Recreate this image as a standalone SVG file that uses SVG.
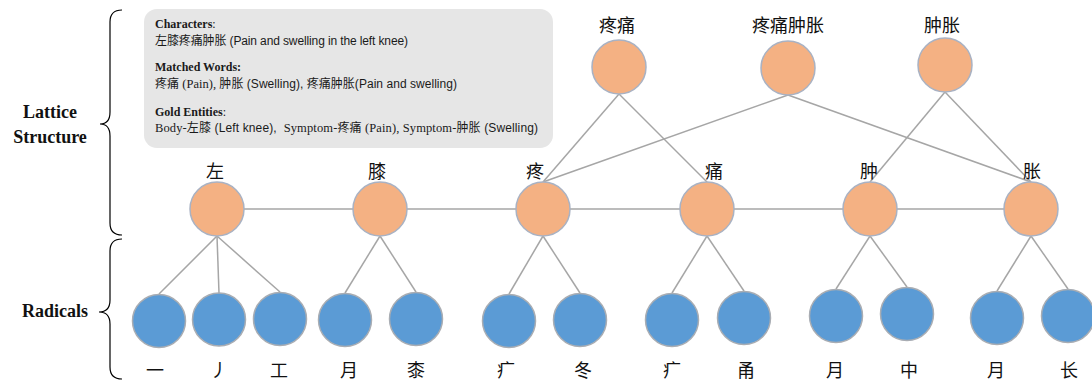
<svg xmlns="http://www.w3.org/2000/svg" width="1092" height="383" viewBox="0 0 1092 383">
<style>
.ch{fill:#F4B183;stroke:#A9B2C3;stroke-width:1.5}
.rd{fill:#5B9BD5;stroke:#A9ADB3;stroke-width:1.5}
.ln{stroke:#A6A6A6;stroke-width:1.5;fill:none}
.br{stroke:#000;stroke-width:1.2;fill:none}
.lab{font-family:"Noto Sans CJK SC","Noto Sans CJK JP",sans-serif;font-size:18px;fill:#111;text-anchor:middle}
.side{font-family:"Liberation Serif",serif;font-weight:bold;font-size:18px;fill:#111;text-anchor:middle}
.hd{font-family:"Liberation Serif",serif;font-size:12px;fill:#1a1a1a}
.tx{font-family:"Liberation Sans","Noto Sans CJK SC",sans-serif;font-size:12px;fill:#1a1a1a}
.cj{font-family:"Noto Sans CJK SC",sans-serif;font-size:12px}
.sf{font-family:"Liberation Serif",serif;font-size:12.5px}
</style>

<g id="braces">
<path class="br" d="M122,10 Q110,10 110,22 L110,112 Q110,124 100,124 Q110,124 110,136 L110,223 Q110,235 122,235"/>
<path class="br" d="M122,239 Q110,239 110,251 L110,300 Q110,312 99,312 Q110,312 110,324 L110,367 Q110,379 122,379"/>
</g>
<text class="side" x="50" y="118">Lattice</text>
<text class="side" x="50" y="143">Structure</text>
<text class="side" x="55" y="317">Radicals</text>

<g id="infobox">
<rect x="144" y="9" width="409" height="139" rx="13" ry="13" fill="#E6E6E6"/>
<text class="hd" x="155" y="28"><tspan font-weight="bold">Characters</tspan>:</text>
<text class="tx" x="155" y="45" textLength="253" lengthAdjust="spacing"><tspan class="cj">左膝疼痛肿胀</tspan> (Pain and swelling in the left knee)</text>
<text class="hd" x="155" y="71" font-weight="bold">Matched Words:</text>
<text class="tx" x="155" y="88" textLength="302" lengthAdjust="spacing" xml:space="preserve"><tspan class="cj">疼痛</tspan><tspan class="sf"> (Pain), </tspan><tspan class="cj">肿胀</tspan> (Swelling), <tspan class="cj">疼痛肿胀</tspan>(Pain and swelling)</text>
<text class="hd" x="155" y="116"><tspan font-weight="bold">Gold Entities</tspan>:</text>
<text class="tx" x="155" y="132" textLength="383" lengthAdjust="spacing" xml:space="preserve"><tspan class="sf">Body-</tspan><tspan class="cj">左膝</tspan> (Left knee),  <tspan class="sf">Symptom-</tspan><tspan class="cj">疼痛</tspan><tspan class="sf"> (Pain), Symptom-</tspan><tspan class="cj">肿胀</tspan> (Swelling)</text>
</g>

<g id="connectors">
<line class="ln" x1="619" y1="94" x2="543" y2="182"/>
<line class="ln" x1="619" y1="94" x2="707" y2="182"/>
<line class="ln" x1="788" y1="95" x2="543" y2="182"/>
<line class="ln" x1="788" y1="95" x2="1031" y2="182"/>
<line class="ln" x1="945" y1="92" x2="870" y2="182"/>
<line class="ln" x1="945" y1="92" x2="1031" y2="182"/>
<line class="ln" x1="244" y1="209" x2="353" y2="209"/>
<line class="ln" x1="407" y1="209" x2="516" y2="209"/>
<line class="ln" x1="570" y1="209" x2="680" y2="209"/>
<line class="ln" x1="734" y1="209" x2="843" y2="209"/>
<line class="ln" x1="897" y1="209" x2="1004" y2="209"/>
<line class="ln" x1="217" y1="236" x2="159" y2="294"/>
<line class="ln" x1="217" y1="236" x2="219" y2="293"/>
<line class="ln" x1="217" y1="236" x2="280" y2="292"/>
<line class="ln" x1="380" y1="236" x2="345" y2="293"/>
<line class="ln" x1="380" y1="236" x2="416" y2="292"/>
<line class="ln" x1="543" y1="236" x2="509" y2="294"/>
<line class="ln" x1="543" y1="236" x2="580" y2="293"/>
<line class="ln" x1="707" y1="236" x2="672" y2="293"/>
<line class="ln" x1="707" y1="236" x2="744" y2="291"/>
<line class="ln" x1="870" y1="236" x2="836" y2="289"/>
<line class="ln" x1="870" y1="236" x2="907" y2="287"/>
<line class="ln" x1="1031" y1="236" x2="997" y2="291"/>
<line class="ln" x1="1031" y1="236" x2="1068" y2="289"/>
</g>

<g id="word-tengtong"><circle class="ch" cx="619" cy="67" r="27"/><text class="lab" x="617" y="32">疼痛</text></g>
<g id="word-tengtongzhongzhang"><circle class="ch" cx="788" cy="68" r="27"/><text class="lab" x="788" y="32">疼痛肿胀</text></g>
<g id="word-zhongzhang"><circle class="ch" cx="945" cy="65" r="27"/><text class="lab" x="942" y="32">肿胀</text></g>

<g id="char-zuo"><circle class="ch" cx="217" cy="209" r="27"/><text class="lab" x="215" y="178">左</text></g>
<g id="char-xi"><circle class="ch" cx="380" cy="209" r="27"/><text class="lab" x="377" y="178">膝</text></g>
<g id="char-teng"><circle class="ch" cx="543" cy="209" r="27"/><text class="lab" x="535" y="178">疼</text></g>
<g id="char-tong"><circle class="ch" cx="707" cy="209" r="27"/><text class="lab" x="714" y="178">痛</text></g>
<g id="char-zhong"><circle class="ch" cx="870" cy="209" r="27"/><text class="lab" x="869" y="178">肿</text></g>
<g id="char-zhang"><circle class="ch" cx="1031" cy="209" r="27"/><text class="lab" x="1032" y="178">胀</text></g>

<g id="rad-1"><circle class="rd" cx="159" cy="321" r="26.5"/><text class="lab" x="155" y="377">一</text></g>
<g id="rad-2"><circle class="rd" cx="219" cy="319.5" r="26.5"/><text class="lab" x="219" y="377">丿</text></g>
<g id="rad-3"><circle class="rd" cx="280" cy="319" r="26.5"/><text class="lab" x="279" y="377">工</text></g>
<g id="rad-4"><circle class="rd" cx="345" cy="320" r="26.5"/><text class="lab" x="349" y="377">月</text></g>
<g id="rad-5"><circle class="rd" cx="416" cy="319" r="26.5"/><text class="lab" x="416" y="377">桼</text></g>
<g id="rad-6"><circle class="rd" cx="509" cy="321" r="26.5"/><text class="lab" x="506" y="377">疒</text></g>
<g id="rad-7"><circle class="rd" cx="580" cy="320" r="26.5"/><text class="lab" x="583" y="377">冬</text></g>
<g id="rad-8"><circle class="rd" cx="672" cy="320" r="26.5"/><text class="lab" x="672" y="377">疒</text></g>
<g id="rad-9"><circle class="rd" cx="744" cy="318" r="26.5"/><text class="lab" x="746" y="377">甬</text></g>
<g id="rad-10"><circle class="rd" cx="836" cy="316" r="26.5"/><text class="lab" x="835" y="377">月</text></g>
<g id="rad-11"><circle class="rd" cx="907" cy="314" r="26.5"/><text class="lab" x="909" y="377">中</text></g>
<g id="rad-12"><circle class="rd" cx="997" cy="318" r="26.5"/><text class="lab" x="996" y="377">月</text></g>
<g id="rad-13"><circle class="rd" cx="1068" cy="316" r="26.5"/><text class="lab" x="1069" y="377">长</text></g>
</svg>
